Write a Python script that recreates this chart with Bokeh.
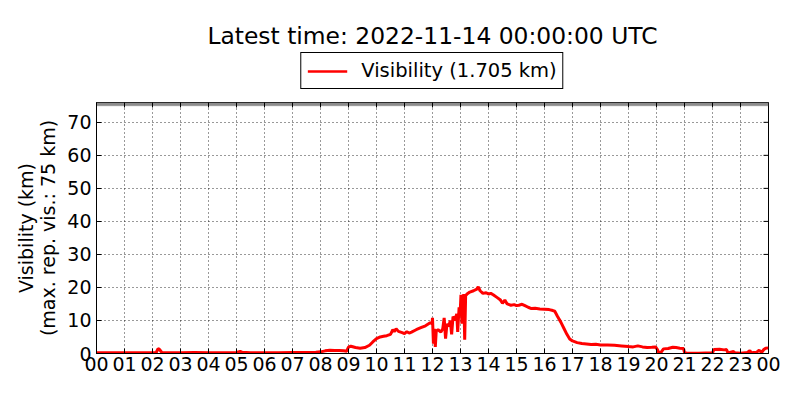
import math
from bokeh.plotting import figure
from bokeh.layouts import column
from bokeh.models import (FixedTicker, Range1d, BoxAnnotation, Label,
                          Legend, LegendItem, ColumnDataSource)
from bokeh.embed import file_html
from bokeh.resources import INLINE

# ---- data ----
times = ["00:00", "00:30", "01:00", "01:30", "02:00", "02:08", "02:12", "02:15", "02:20", "02:40",
         "03:00", "03:30", "04:00", "04:30", "05:00", "05:08", "05:12", "05:30", "06:00", "06:30",
         "07:00", "07:30", "07:50", "08:00", "08:10", "08:20", "08:30", "08:40", "08:50", "08:56",
         "09:00", "09:05", "09:15", "09:25", "09:35", "09:45", "09:52", "10:00", "10:08", "10:15",
         "10:22", "10:30", "10:35", "10:38", "10:42", "10:47", "10:55", "11:00", "11:05", "11:10",
         "11:15", "11:25", "11:35", "11:45", "11:55", "11:59", "12:00", "12:02", "12:04", "12:06",
         "12:08", "12:12", "12:18", "12:22", "12:25", "12:28", "12:31", "12:35", "12:38", "12:41",
         "12:44", "12:48", "12:52", "12:54", "12:57", "12:59", "13:01", "13:03", "13:05", "13:07",
         "13:09", "13:11", "13:14", "13:20", "13:28", "13:35", "13:38", "13:42", "13:48", "13:55",
         "14:00", "14:05", "14:10", "14:18", "14:25", "14:30", "14:35", "14:40", "14:48", "14:55",
         "15:00", "15:05", "15:12", "15:18", "15:25", "15:32", "15:40", "15:50", "16:00", "16:10",
         "16:18", "16:22", "16:28", "16:35", "16:42", "16:48", "16:54", "17:00", "17:10", "17:20",
         "17:30", "17:40", "17:50", "18:00", "18:15", "18:30", "18:45", "19:00", "19:10", "19:20",
         "19:30", "19:40", "19:50", "19:58", "20:02", "20:05", "20:10", "20:15", "20:25", "20:35",
         "20:42", "20:50", "20:58", "21:00", "21:05", "21:30", "22:00", "22:03", "22:15", "22:25",
         "22:30", "22:33", "22:45", "22:48", "23:00", "23:15", "23:20", "23:23", "23:35", "23:40",
         "23:45", "23:50", "23:54", "24:00"]
vis = [0.2, 0.2, 0.2, 0.2, 0.2, 0.3, 1.5, 1.2, 0.3, 0.2,
       0.2, 0.3, 0.2, 0.2, 0.3, 0.6, 0.4, 0.2, 0.2, 0.2,
       0.3, 0.3, 0.4, 0.5, 0.8, 1.0, 0.9, 0.9, 0.8, 0.7,
       1.9, 2.2, 1.8, 1.6, 1.8, 2.5, 3.5, 4.5, 5.0, 5.2,
       5.4, 5.8, 7.2, 6.6, 7.5, 6.7, 6.3, 6.0, 6.6, 6.2,
       6.5, 7.2, 7.8, 8.4, 9.3, 9.0, 10.8, 3.0, 7.5, 2.0,
       6.8, 7.2, 6.5, 7.5, 10.8, 4.5, 9.0, 8.2, 10.0, 5.8,
       11.2, 10.0, 12.0, 6.5, 14.0, 11.5, 17.8, 9.0, 15.0, 18.0,
       4.2, 17.5, 18.0, 18.6, 19.0, 19.5, 20.2, 19.0, 18.2, 18.4,
       18.0, 18.2, 17.8, 17.0, 16.3, 15.2, 16.2, 15.0, 14.6, 14.8,
       14.5, 14.6, 14.9, 14.5, 14.0, 13.6, 13.7, 13.5, 13.4, 13.3,
       13.0, 12.8, 11.2, 9.5, 7.5, 5.8, 4.4, 3.8, 3.3, 3.0,
       2.9, 2.7, 2.8, 2.6, 2.6, 2.5, 2.3, 2.1, 2.0, 2.3,
       2.0, 1.8, 1.9, 2.0, 1.2, 0.2, 0.4, 1.4, 1.5, 1.9,
       1.8, 1.6, 1.5, 0.3, 0.1, 0.1, 0.2, 1.2, 1.3, 1.1,
       1.2, 0.2, 0.6, 0.2, 0.1, 0.3, 0.9, 0.2, 0.4, 1.0,
       0.3, 1.2, 1.6, 1.705]
hour_ticks = list(range(25))
hour_labels = ["00", "01", "02", "03", "04", "05", "06", "07", "08", "09", "10", "11",
               "12", "13", "14", "15", "16", "17", "18", "19", "20", "21", "22", "23", "00"]
vis_ticks = [0, 10, 20, 30, 40, 50, 60, 70]
max_rep_vis = 75
y_top = 76
title_text = "Latest time: 2022-11-14 00:00:00 UTC"

hours = [int(t[:2]) + int(t[3:]) / 60 for t in times]
src = ColumnDataSource(dict(h=hours, v=vis))

FONT = "DejaVu Sans"
FS = "19px"
RED = "#ff0000"
W = 792
LEFT, RIGHT = 96, 24
HEAD = 102          # height of the header strip (title + legend)
MAIN_H = 298

# ---------------- header: title + legend ----------------
head = figure(width=W, height=HEAD, output_backend="svg", toolbar_location=None,
              x_range=Range1d(hour_ticks[0], hour_ticks[-1]), y_range=Range1d(0, HEAD),
              x_axis_type=None, y_axis_type=None,
              min_border_left=LEFT, min_border_right=RIGHT, min_border_top=0, min_border_bottom=0,
              background_fill_color="white", border_fill_color="white", outline_line_color=None)
head.xgrid.visible = False
head.ygrid.visible = False
head.add_layout(Label(x=(hour_ticks[0] + hour_ticks[-1]) / 2, y=HEAD - 35, text=title_text,
                      text_align="center", text_baseline="middle",
                      text_font=FONT, text_font_size="23.4px", text_color="black"))
# single-point line: draws nothing in the strip, only provides the legend swatch
dummy = head.line(x=hours[-1:], y=vis[-1:], line_color=RED, line_width=2.5)
legend = Legend(items=[LegendItem(label="Visibility (%.3f km)" % vis[-1], renderers=[dummy])],
                location="bottom_center", orientation="horizontal")
legend.label_text_font = FONT
legend.label_text_font_size = "19.5px"
legend.label_text_color = "black"
legend.border_line_color = "black"
legend.border_line_width = 1
legend.border_line_alpha = 1.0
legend.glyph_width = 40
legend.glyph_height = 20
legend.padding = 6
legend.margin = 13
legend.spacing = 0
legend.label_standoff = 14
legend.background_fill_color = "white"
legend.background_fill_alpha = 1.0
head.add_layout(legend, "center")

# ---------------- main chart ----------------
p = figure(width=W, height=MAIN_H, output_backend="svg", toolbar_location=None,
           x_range=Range1d(hour_ticks[0], hour_ticks[-1]), y_range=Range1d(0, y_top),
           min_border_left=LEFT, min_border_right=RIGHT, min_border_top=0, min_border_bottom=47,
           background_fill_color="white", border_fill_color="white")

# grey band above max. representative visibility
p.add_layout(BoxAnnotation(bottom=max_rep_vis, fill_color="#8c8c8c", fill_alpha=1.0,
                           line_color="#6e6e6e", line_width=1, level="underlay"))

r = p.line("h", "v", source=src, line_color=RED, line_width=3)

# inward ticks on the top and right edges of the frame
p.scatter(x=hour_ticks, y=[y_top] * len(hour_ticks), marker="dash", size=10,
          angle=math.pi / 2, line_color="black", line_width=1)
p.scatter(x=[hour_ticks[-1]] * len(vis_ticks), y=vis_ticks, marker="dash", size=10,
          line_color="black", line_width=1)

def style_axis(ax):
    ax.axis_line_color = "black"
    ax.axis_line_width = 1
    ax.major_tick_in = 5
    ax.major_tick_out = 0
    ax.minor_tick_line_color = None
    ax.major_tick_line_color = "black"
    ax.major_label_text_font = FONT
    ax.major_label_text_color = "black"
    ax.major_label_text_font_size = FS

xa = p.xaxis[0]
xa.ticker = FixedTicker(ticks=hour_ticks)
xa.major_label_overrides = {i: lab for i, lab in enumerate(hour_labels)}
xa.major_label_standoff = 3
style_axis(xa)

ya = p.yaxis[0]
ya.ticker = FixedTicker(ticks=vis_ticks)
ya.major_label_standoff = 5
ya.axis_label = "Visibility (km)\n(max. rep. vis.: %d km)" % max_rep_vis
ya.axis_label_text_font = FONT
ya.axis_label_text_font_size = FS
ya.axis_label_text_font_style = "normal"
ya.axis_label_text_color = "black"
ya.axis_label_text_line_height = 1.0
ya.axis_label_standoff = 5
style_axis(ya)

p.xgrid.ticker = FixedTicker(ticks=hour_ticks)
p.ygrid.ticker = FixedTicker(ticks=vis_ticks)
for g in (p.xgrid, p.ygrid):
    g.grid_line_color = "black"
    g.grid_line_dash = "1 3"
    g.grid_line_width = 1
    g.grid_line_alpha = 0.8

p.outline_line_color = "black"
p.outline_line_width = 1

page = column(head, p, spacing=0)
open("out.html", "w").write(file_html(page, INLINE))
